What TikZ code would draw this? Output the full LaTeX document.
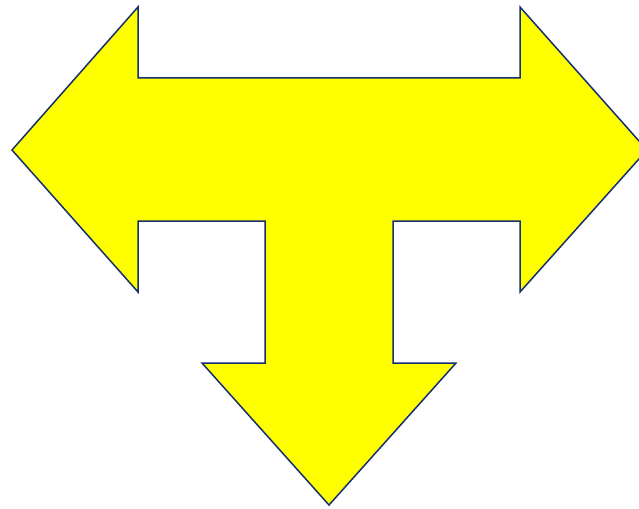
\documentclass[tikz,border=0pt]{standalone}
\definecolor{edgeblue}{HTML}{14306E}
\definecolor{fillyellow}{HTML}{FFFF00}
\tikzset{tshape/.style={draw=edgeblue,fill=fillyellow,line width=1.5pt,line join=miter}}
\begin{document}
\begin{tikzpicture}[x=1pt,y=-1pt]
\useasboundingbox (0,0) rectangle (639,508);
\clip (0,0) rectangle (639,508);
\draw[tshape] (12,150) -- (138,7) -- (138,78) -- (520,78) -- (520,7) -- (647,150)
  -- (520,292) -- (520,221) -- (393,221) -- (393,363) -- (456,363) -- (329,505)
  -- (202,363) -- (265,363) -- (265,221) -- (138,221) -- (138,292) -- cycle;
\end{tikzpicture}
\end{document}
